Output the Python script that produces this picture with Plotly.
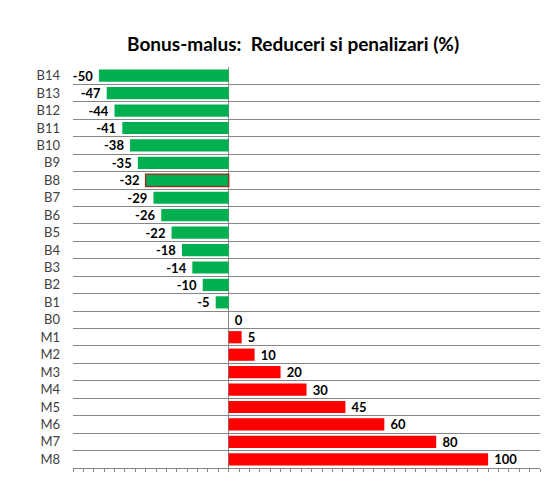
import plotly.graph_objects as go

# Categories from top to bottom
classes = ['B14', 'B13', 'B12', 'B11', 'B10', 'B9', 'B8', 'B7', 'B6', 'B5', 'B4', 'B3', 'B2', 'B1',
           'B0', 'M1', 'M2', 'M3', 'M4', 'M5', 'M6', 'M7', 'M8']
percent = [-50, -47, -44, -41, -38, -35, -32, -29, -26, -22, -18, -14, -10, -5,
           0, 5, 10, 20, 30, 45, 60, 80, 100]

GREEN = '#00B050'
RED = '#FF0000'

colors = [GREEN if v < 0 else RED for v in percent]
# B8 has a dark outline in the original (selected point)
line_colors = ['#8B3A2A' if c == 'B8' else 'rgba(0,0,0,0)' for c in classes]
line_widths = [1.5 if c == 'B8' else 0 for c in classes]

# a little extra gap between bar end and its label
labels = [f'{v}\u00a0' if v < 0 else f'\u00a0{v}' for v in percent]

fig = go.Figure()

fig.add_trace(go.Bar(
    x=percent,
    y=classes,
    orientation='h',
    marker=dict(color=colors, line=dict(color=line_colors, width=line_widths)),
    text=labels,
    textposition='outside',
    constraintext='none',
    textfont=dict(family='Lato', size=13, color='black', weight='bold'),
    cliponaxis=False,
    showlegend=False,
))

# page body has an 8px margin, so the figure is sized to fit inside it
fig.update_layout(
    width=539,
    height=478,
    title=dict(
        text='<b>Bonus-malus:  Reduceri si penalizari (%)</b>',
        x=0.529, xanchor='center', y=0.923, yanchor='middle',
        font=dict(family='Lato', size=19, color='black'),
    ),
    margin=dict(l=65, r=7, t=59, b=18),
    paper_bgcolor='white',
    plot_bgcolor='white',
    bargap=0.3,
    xaxis=dict(
        range=[-60, 120],
        tick0=0, dtick=4,
        ticks='outside', ticklen=3, tickcolor='#868686',
        showticklabels=False,
        showgrid=False,
        showline=True, linecolor='#868686', linewidth=1,
        zeroline=True, zerolinecolor='#868686', zerolinewidth=1,
    ),
    yaxis=dict(
        type='category',
        categoryorder='array', categoryarray=classes,
        autorange='reversed',
        tickson='boundaries',
        ticks='',
        showgrid=True, gridcolor='#868686', gridwidth=1,
        showline=False,
        automargin=False,
        tickfont=dict(family='Lato', size=13, color='#404040'),
        ticklabelstandoff=12,
    ),
)

fig.write_html("out.html")
